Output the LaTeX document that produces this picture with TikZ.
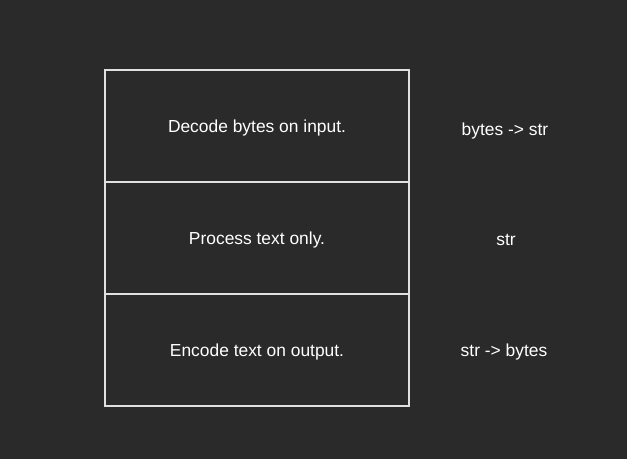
\documentclass[tikz,border=0pt]{standalone}
\usepackage{fontspec}
\setmainfont{Liberation Sans}
\definecolor{bg}{HTML}{2A2A2A}
\definecolor{edge}{HTML}{E0E0E0}
\begin{document}
\begin{tikzpicture}[x=1pt,y=-1pt,
  layer/.style={draw=edge, line width=1.2pt, minimum width=304pt, minimum height=112pt,
    inner sep=0pt},
  caption/.style={text=white, font=\fontsize{17.4}{20}\selectfont},
  tag/.style={text=white, font=\fontsize{17.4}{20}\selectfont}]
  \fill[bg] (0,0) rectangle (627,459);
  \useasboundingbox (0,0) rectangle (627,459);
  \node[layer] (decode) at (257,126) {};
  \node[layer] (process) at (257,238) {};
  \node[layer] (encode) at (257,350) {};
  \node[caption] (c1) at ([yshift=-2pt]decode.center) {Decode bytes on input.};
  \node[caption] (c2) at ([yshift=-2pt]process.center) {Process text only.};
  \node[caption] (c3) at ([yshift=-2pt]encode.center) {Encode text on output.};
  \node[tag] (t1) at (505,131) {bytes -> str};
  \node[tag] (t2) at (506,240) {str};
  \node[tag] (t3) at (504,352) {str -> bytes};
\end{tikzpicture}
\end{document}
